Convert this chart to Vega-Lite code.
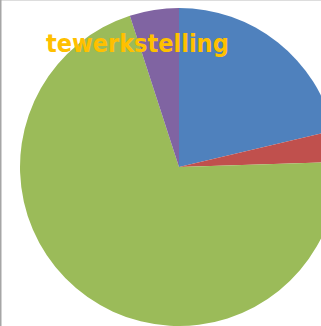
{
  "$schema": "https://vega.github.io/schema/vega-lite/v6.json",
  "width": 321,
  "height": 326,
  "autosize": "none",
  "padding": 0,
  "background": "white",
  "title": {
    "text": "tewerkstelling",
    "font": "DejaVu Sans Condensed",
    "fontSize": 25,
    "fontWeight": "bold",
    "color": "#FFC000",
    "anchor": "start",
    "frame": "group",
    "orient": "top",
    "offset": 0,
    "baseline": "alphabetic",
    "dx": 46,
    "dy": 78
  },
  "layer": [
    {
      "data": {
        "values": [
          {"cat": "A", "value": 21.3},
          {"cat": "B", "value": 3.2},
          {"cat": "C", "value": 70.5},
          {"cat": "D", "value": 5.0}
        ]
      },
      "mark": {"type": "arc", "radius": 159, "xOffset": 18.5, "yOffset": 4},
      "encoding": {
        "theta": {"field": "value", "type": "quantitative", "stack": true},
        "order": {"field": "cat", "type": "nominal"},
        "color": {
          "field": "cat",
          "type": "nominal",
          "scale": {"domain": ["A", "B", "C", "D"], "range": ["#4F81BD", "#C0504D", "#9BBB59", "#8064A2"]},
          "legend": null
        }
      }
    },
    {
      "data": {"values": [{"edge": 0}]},
      "mark": {"type": "rule", "color": "#a6a6a6", "strokeWidth": 3},
      "encoding": {
        "x": {"field": "edge", "type": "quantitative", "scale": {"domain": [0, 1]}, "axis": null}
      }
    }
  ]
}
